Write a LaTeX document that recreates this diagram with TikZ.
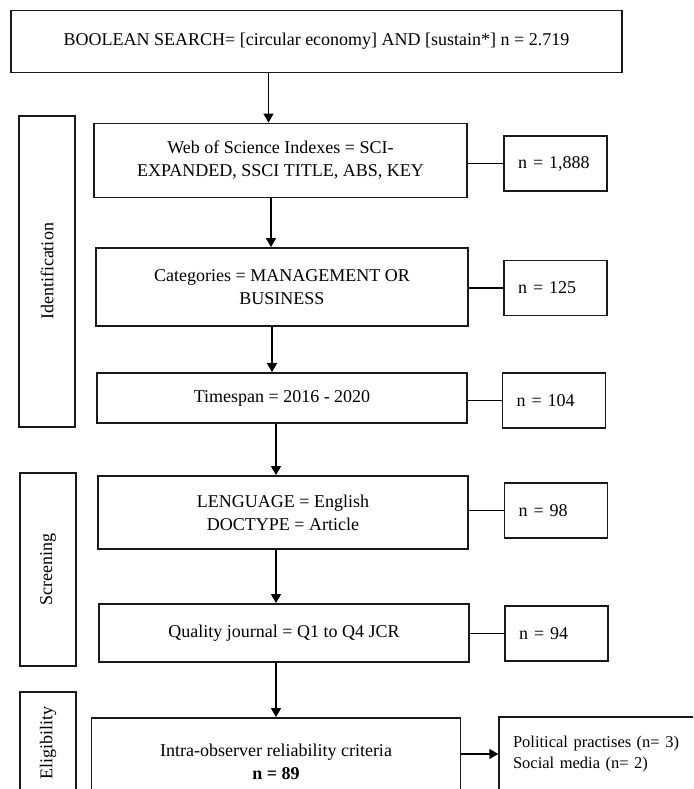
\documentclass[tikz,border=0pt]{standalone}
\usepackage{fontspec}
\setmainfont{Liberation Serif}
\usetikzlibrary{arrows.meta,positioning}

\begin{document}
\begin{tikzpicture}
[x=1pt,y=-1pt,
font=\fontsize{18}{23}\selectfont,
mainbox/.style={draw=black!90,line width=1.8pt,align=center,inner sep=0pt},
countbox/.style={draw=black!90,line width=1.4pt,align=left,inner sep=0pt,text width=75pt,minimum width=103pt,minimum height=55pt},
phasebox/.style={draw=black!90,line width=1.4pt,rotate=90,inner sep=0pt,minimum height=56pt},
arr/.style={line width=1.4pt,-{Triangle[width=10pt,length=9pt]}},
link/.style={line width=1.4pt}]
\useasboundingbox (0,0) rectangle (693,789);
\clip (0,0) rectangle (693,789);
% phases
\node[phasebox,minimum width=311pt] (ident) at (47,271.5) {Identification};
\node[phasebox,minimum width=193pt] (screen) at (48,569.5) {Screening};
\node[phasebox,minimum width=102pt] (elig) at (48,743) {Eligibility};
% steps
\node[mainbox,minimum width=611pt,minimum height=62pt] (search) at (316.5,41.5) {BOOLEAN SEARCH= [circular economy] AND [sustain*] n = 2.719};
\node[mainbox,minimum width=373pt,minimum height=74pt] (wos) at (280.5,160.5) {Web of Science Indexes = SCI-\\EXPANDED, SSCI TITLE, ABS, KEY};
\node[countbox] (nwos) at (555.5,163.5) {n = 1,888};
\node[mainbox,minimum width=372pt,minimum height=78pt] (cat) at (282,287) {Categories = MANAGEMENT OR\\BUSINESS};
\node[countbox] (ncat) at (555.5,288) {n = 125};
\node[mainbox,minimum width=370pt,minimum height=50pt] (time) at (282,398) {Timespan = 2016 - 2020};
\node[countbox] (ntime) at (554,400.5) {n = 104};
\node[mainbox,minimum width=370pt,minimum height=73pt] (lang) at (283,512.5) {LENGUAGE = English\\DOCTYPE = Article};
\node[countbox] (nlang) at (556,510.5) {n = 98};
\node[mainbox,minimum width=370pt,minimum height=58pt] (qual) at (284,633) {Quality journal = Q1 to Q4 JCR};
\node[countbox] (nqual) at (556.5,633.5) {n = 94};
\node[mainbox,minimum width=369pt,minimum height=88pt] (intra) at (276,762) {Intra-observer reliability criteria\\\textbf{n = 89}};
\node[countbox,text width=171pt,minimum width=199pt,minimum height=74pt,font=\fontsize{16.5}{21}\selectfont] (excl) at (598.5,754) {Political practises (n= 3)\\Social media (n= 2)};
% connectors
\draw[arr] ([xshift=-48pt]search.south) -- ([xshift=-12pt]wos.north);
\draw[arr] ([xshift=-9.5pt]wos.south) -- ([xshift=-11pt]cat.north);
\draw[arr] ([xshift=-10pt]cat.south) -- ([xshift=-10pt]time.north);
\draw[arr] ([xshift=-6pt]time.south) -- ([xshift=-7pt]lang.north);
\draw[arr] ([xshift=-7pt]lang.south) -- ([xshift=-8pt]qual.north);
\draw[arr] ([xshift=-8pt]qual.south) -- (intra.north);
\draw[arr] (intra.east |- excl.west) -- (excl.west);
\foreach \a/\b in {wos/nwos,cat/ncat,time/ntime,lang/nlang,qual/nqual}
  \draw[link] (\a.east |- \b.west) -- (\b.west);
\end{tikzpicture}
\end{document}
